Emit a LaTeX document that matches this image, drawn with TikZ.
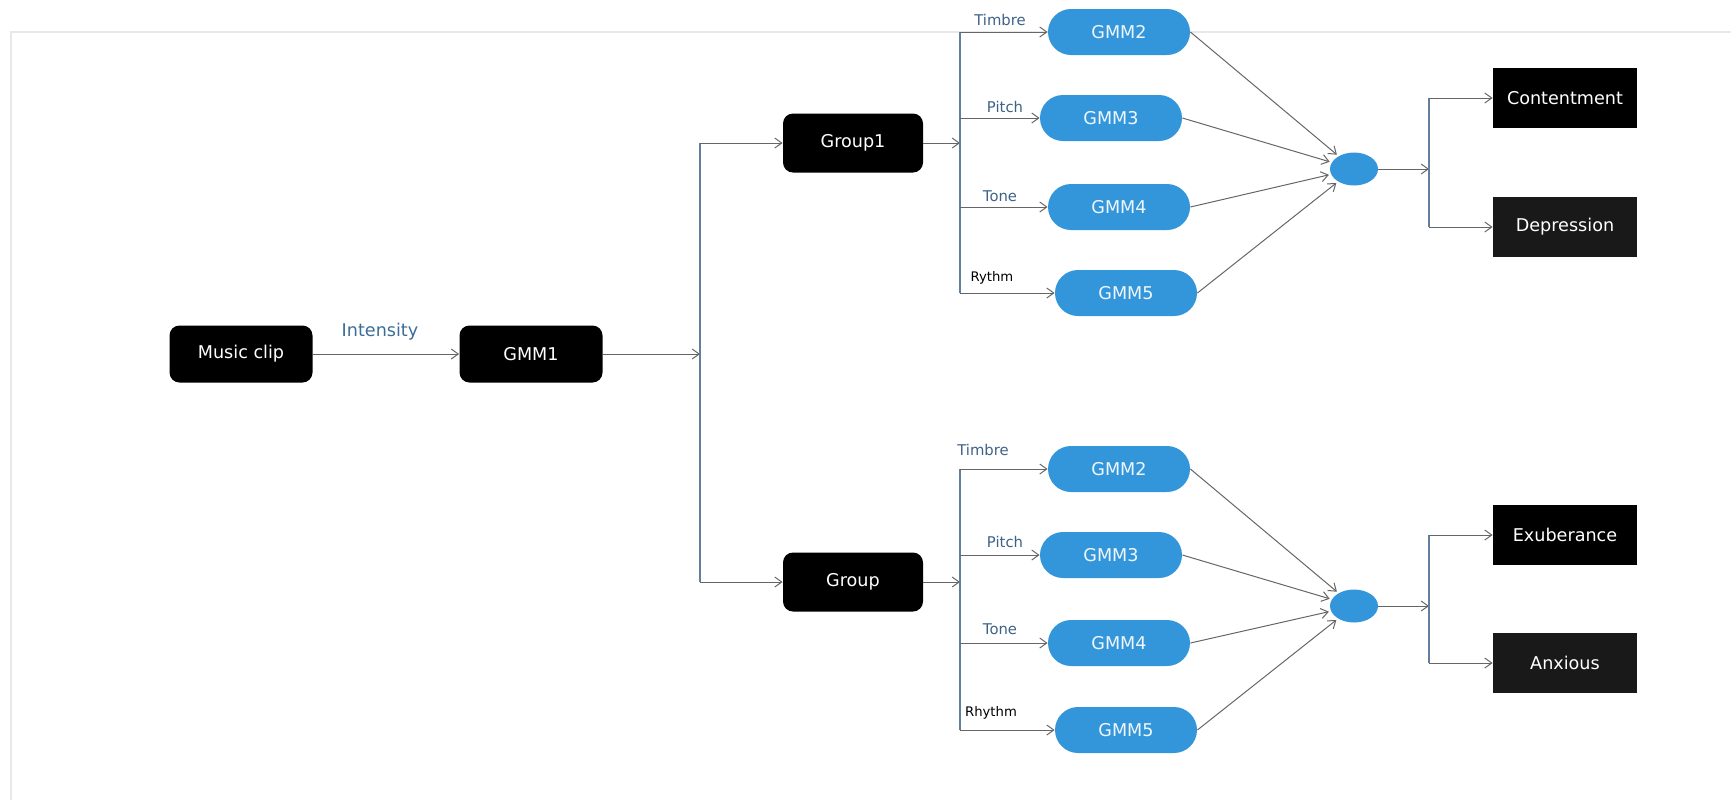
\documentclass[tikz,border=0pt]{standalone}
\usepackage{fontspec}
\setmainfont{DejaVu Sans}
\usetikzlibrary{shapes.geometric,arrows.meta}

\definecolor{gmmblue}{RGB}{52,150,218}
\definecolor{busblue}{RGB}{98,128,158}
\definecolor{lblblue}{RGB}{62,98,134}
\definecolor{framegray}{RGB}{232,232,232}

\tikzset{
	roundbox/.style={fill=black, text=white, rounded corners=5pt, minimum width=71.5pt, minimum height=28.5pt, font=\fontsize{8.8}{10}\selectfont},
	moodbox/.style={fill=black!90, text=white, minimum width=72pt, minimum height=30pt, font=\fontsize{8.8}{10}\selectfont},
	gmmnode/.style={fill=gmmblue, text=white!92!gmmblue, rounded corners=11.5pt, minimum width=71pt, minimum height=23pt, font=\fontsize{8.8}{10}\selectfont},
	combnode/.style={ellipse, fill=gmmblue, minimum width=24pt, minimum height=16.5pt, inner sep=0pt},
	arr/.style={-{Straight Barb[length=3.5pt,width=5pt]}, draw=black!60, line width=0.5pt},
	bus/.style={draw=busblue, line width=1.2pt},
	lbl/.style={text=lblblue, font=\fontsize{7.4}{8}\selectfont, inner sep=0pt},
}

\begin{document}
\begin{tikzpicture}[x=0.5pt, y=-0.5pt]
	\useasboundingbox (0,0) rectangle (1731,800);
	\draw[framegray, line width=0.8pt] (1731,32) -- (11,32) -- (11,800);

	% input side
	\node[roundbox] (mc) at (241,354) {Music clip};
	\node[roundbox] (g1) at (531,354) {GMM1};
	\node[lbl, text=lblblue!80!gmmblue, font=\fontsize{8.8}{10}\selectfont] (int) at (380,332) {Intensity};
	\node[roundbox, minimum width=70pt, minimum height=29.5pt] (grp1) at (853,143) {Group1};
	\node[roundbox, minimum width=70pt, minimum height=29.5pt] (grp2) at (853,582) {Group};
	\coordinate (b1) at (700,354);

	\draw[arr] (mc) -- (g1);
	\draw[arr] (g1) -- (b1);
	\draw[bus] (b1 |- grp1) -- (b1 |- grp2);
	\draw[arr] (b1 |- grp1) -- (grp1);
	\draw[arr] (b1 |- grp2) -- (grp2);

	% upper group
	\node[gmmnode] (g2a) at (1119,32) {GMM2};
	\node[gmmnode] (g3a) at (1111,118) {GMM3};
	\node[gmmnode] (g4a) at (1119,207) {GMM4};
	\node[gmmnode] (g5a) at (1126,293) {GMM5};
	\node[combnode] (ca) at (1354,169) {};
	\node[moodbox, fill=black] (cont) at (1565,98) {Contentment};
	\node[moodbox] (dep) at (1565,227) {Depression};
	\node[lbl] at (1000,20) {Timbre};
	\node[lbl] at (1005,107) {Pitch};
	\node[lbl] at (1000,196) {Tone};
	\node[lbl, text=black, font=\fontsize{6.6}{7}\selectfont] at (992,278) {Rythm};
	\coordinate (b2a) at (960,143);
	\coordinate (b3a) at (1429,169);

	\draw[arr] (grp1) -- (b2a);
	\draw[bus] (b2a |- g2a) -- (b2a |- g5a);
	\draw[arr] (b2a |- g2a) -- (g2a);
	\draw[arr] (b2a |- g3a) -- (g3a);
	\draw[arr] (b2a |- g4a) -- (g4a);
	\draw[arr] (b2a |- g5a) -- (g5a);
	\draw[arr, shorten >=1pt] (g2a.east) -- (ca);
	\draw[arr, shorten >=1pt] (g3a.east) -- (ca);
	\draw[arr, shorten >=1pt] (g4a.east) -- (ca);
	\draw[arr, shorten >=1pt] (g5a.east) -- (ca);
	\draw[arr] (ca) -- (b3a);
	\draw[bus] (b3a |- cont) -- (b3a |- dep);
	\draw[arr] (b3a |- cont) -- (cont);
	\draw[arr] (b3a |- dep) -- (dep);

	% lower group
	\node[gmmnode] (g2b) at (1119,469) {GMM2};
	\node[gmmnode] (g3b) at (1111,555) {GMM3};
	\node[gmmnode] (g4b) at (1119,643) {GMM4};
	\node[gmmnode] (g5b) at (1126,730) {GMM5};
	\node[combnode] (cb) at (1354,606) {};
	\node[moodbox, fill=black] (exu) at (1565,535) {Exuberance};
	\node[moodbox] (anx) at (1565,663) {Anxious};
	\node[lbl] at (983,450) {Timbre};
	\node[lbl] at (1005,542) {Pitch};
	\node[lbl] at (1000,629) {Tone};
	\node[lbl, text=black, font=\fontsize{6.6}{7}\selectfont] at (991,713) {Rhythm};
	\coordinate (b2b) at (960,582);
	\coordinate (b3b) at (1429,606);

	\draw[arr] (grp2) -- (b2b);
	\draw[bus] (b2b |- g2b) -- (b2b |- g5b);
	\draw[arr] (b2b |- g2b) -- (g2b);
	\draw[arr] (b2b |- g3b) -- (g3b);
	\draw[arr] (b2b |- g4b) -- (g4b);
	\draw[arr] (b2b |- g5b) -- (g5b);
	\draw[arr, shorten >=1pt] (g2b.east) -- (cb);
	\draw[arr, shorten >=1pt] (g3b.east) -- (cb);
	\draw[arr, shorten >=1pt] (g4b.east) -- (cb);
	\draw[arr, shorten >=1pt] (g5b.east) -- (cb);
	\draw[arr] (cb) -- (b3b);
	\draw[bus] (b3b |- exu) -- (b3b |- anx);
	\draw[arr] (b3b |- exu) -- (exu);
	\draw[arr] (b3b |- anx) -- (anx);
\end{tikzpicture}
\end{document}
